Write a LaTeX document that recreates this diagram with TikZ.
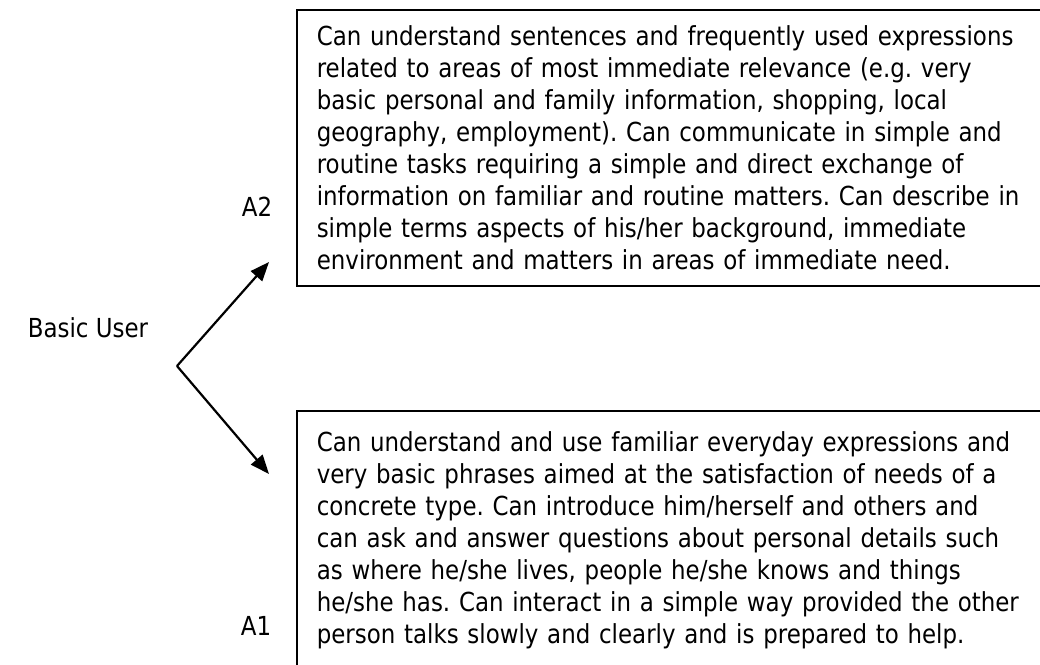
\documentclass[tikz,border=0pt]{standalone}
\usepackage{fontspec}
\setmainfont[FakeStretch=0.875]{DejaVu Sans}
\usetikzlibrary{arrows.meta}
\frenchspacing
\begin{document}
\begin{tikzpicture}[x=1pt,y=-1pt,
  bodyfont/.style={font=\fontsize{26.2}{32}\selectfont},
  descbox/.style={bodyfont, draw, line width=1.6pt, anchor=north west,
    align=left, text width=760pt, inner xsep=20pt, inner ysep=0pt},
  levellabel/.style={bodyfont, inner sep=0pt},
  branch/.style={line width=2.2pt, -{Triangle[length=19pt,width=15pt]}}]
\useasboundingbox (0,0) rectangle (1040,664);
\clip (0,0) rectangle (1040,664);

% descriptor boxes (they run off the right and bottom edges)
\node[descbox, minimum height=276pt] (a2box) at (296,9) {%
Can understand sentences and frequently used expressions\\
related to areas of most immediate relevance (e.g. very\\
basic personal and family information, shopping, local\\
geography, employment). Can communicate in simple and\\
routine tasks requiring a simple and direct exchange of\\
information on familiar and routine matters. Can describe in\\
simple terms aspects of his/her background, immediate\\
environment and matters in areas of immediate need.};

\node[descbox, minimum height=258pt] (a1box) at (296,410) {%
Can understand and use familiar everyday expressions and\\
very basic phrases aimed at the satisfaction of needs of a\\
concrete type. Can introduce him/herself and others and\\
can ask and answer questions about personal details such\\
as where he/she lives, people he/she knows and things\\
he/she has. Can interact in a simple way provided the other\\
person talks slowly and clearly and is prepared to help.};

% level labels
\node[levellabel] (basic) at (88,328) {Basic User};
\node[levellabel] (a2) at (257,207) {A2};
\node[levellabel] (a1) at (256,626) {A1};

% forked arrows
\coordinate (fork) at (177,366);
\coordinate (tipA2) at (269,262);
\coordinate (tipA1) at (269,474);
\draw[branch] (fork) -- (tipA2);
\draw[branch] (fork) -- (tipA1);
\end{tikzpicture}
\end{document}
